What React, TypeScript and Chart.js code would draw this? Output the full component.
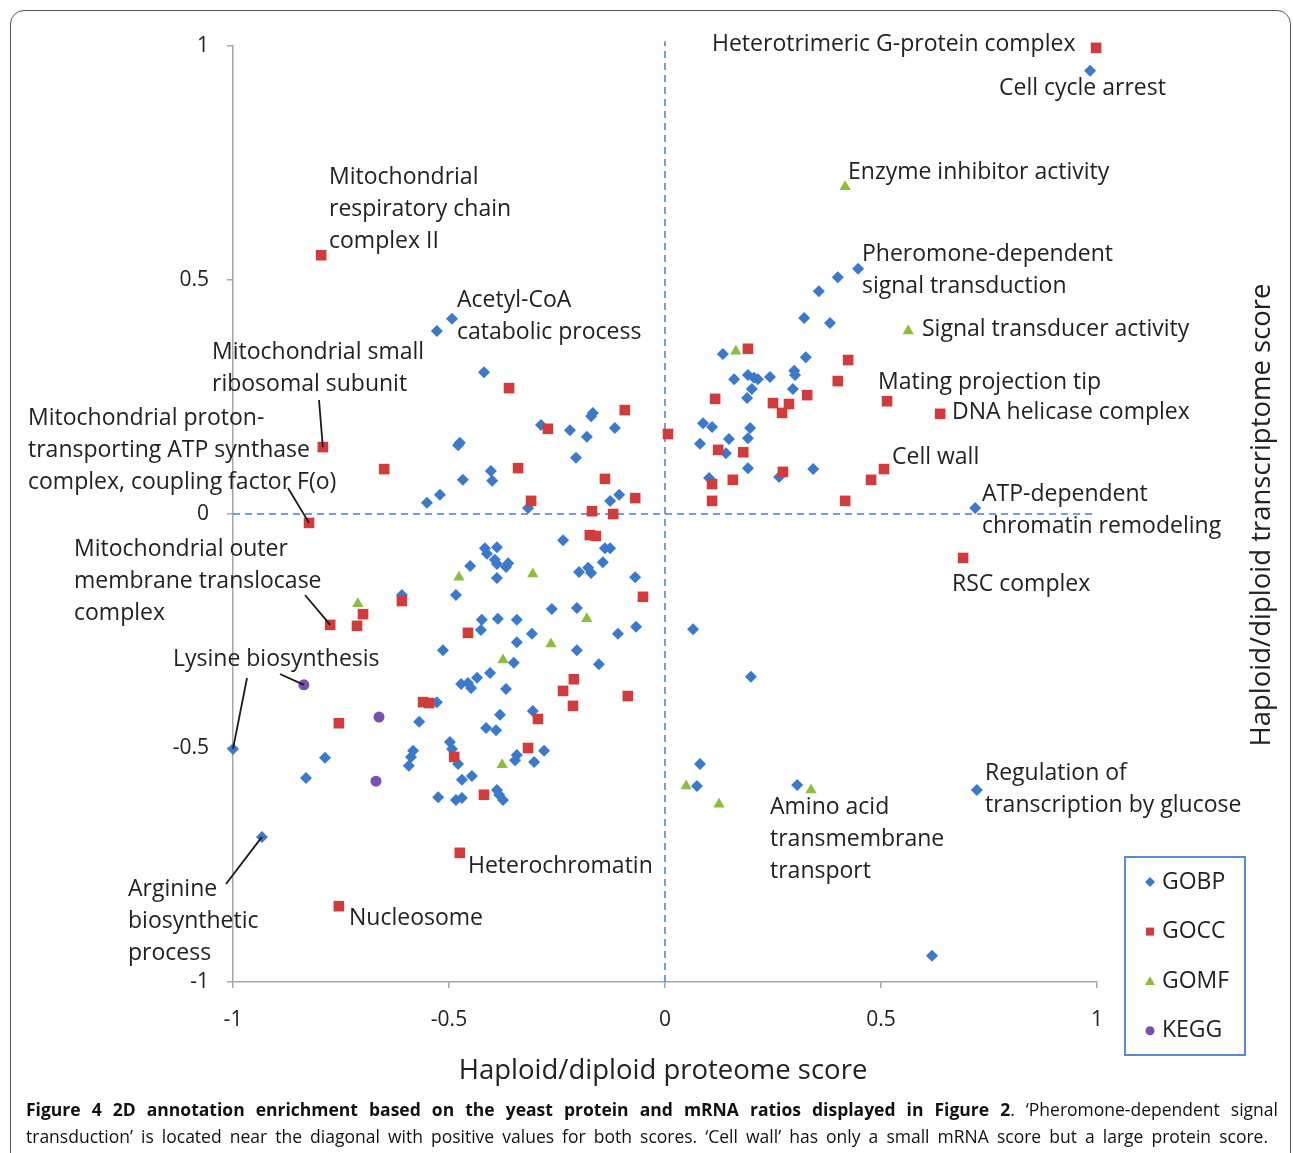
import React, { useEffect, useRef } from "react";
import { Chart, registerables } from "chart.js";

Chart.register(...registerables);

// ---------- data ----------
const xTickValues = [-1, -0.5, 0, 0.5, 1];
const xTickLabels = ["-1", "-0.5", "0", "0.5", "1"];
const yTickValues = [-1, -0.5, 0, 0.5, 1];
const yTickLabels = ["-1", "-0.5", "0", "0.5", "1"];

const gobp: [number, number][] = [
  [0.984, 0.947], [0.447, 0.524], [0.4, 0.506], [0.356, 0.476], [0.322, 0.419], [0.382, 0.408],
  [0.134, 0.342], [0.326, 0.335], [0.16, 0.288], [0.192, 0.297], [0.206, 0.291], [0.215, 0.288],
  [0.243, 0.293], [0.299, 0.306], [0.301, 0.297], [0.201, 0.267], [0.19, 0.248], [0.296, 0.267],
  [0.088, 0.194], [0.109, 0.186], [0.197, 0.184], [0.192, 0.162], [0.148, 0.16], [0.081, 0.15],
  [0.141, 0.13], [0.192, 0.098], [0.264, 0.079], [0.343, 0.096], [0.102, 0.077], [0.718, 0.013],
  [0.065, -0.246], [0.199, -0.348], [0.081, -0.534], [0.074, -0.581], [0.306, -0.579], [0.722, -0.59],
  [0.618, -0.944],
  [-0.493, 0.417], [-0.528, 0.391], [-0.419, 0.303], [-0.167, 0.216], [-0.171, 0.209], [-0.287, 0.19],
  [-0.22, 0.179], [-0.181, 0.165], [-0.116, 0.184], [-0.475, 0.152], [-0.479, 0.147], [-0.206, 0.12],
  [-0.403, 0.092], [-0.4, 0.071], [-0.468, 0.073], [-0.521, 0.041], [-0.551, 0.024], [-0.127, 0.028],
  [-0.106, 0.041], [-0.317, 0.013],
  [-0.236, -0.056], [-0.417, -0.073], [-0.389, -0.071], [-0.139, -0.073], [-0.127, -0.073], [-0.412, -0.085],
  [-0.394, -0.098], [-0.389, -0.107], [-0.363, -0.105], [-0.368, -0.113], [-0.451, -0.111], [-0.144, -0.103],
  [-0.199, -0.124], [-0.178, -0.115], [-0.171, -0.126], [-0.389, -0.137], [-0.069, -0.135], [-0.484, -0.173],
  [-0.609, -0.173], [-0.262, -0.203], [-0.204, -0.201], [-0.424, -0.226], [-0.426, -0.248], [-0.387, -0.224],
  [-0.343, -0.226], [-0.308, -0.256], [-0.343, -0.274], [-0.109, -0.256], [-0.067, -0.241], [-0.514, -0.291],
  [-0.204, -0.291], [-0.35, -0.318], [-0.153, -0.321], [-0.405, -0.34], [-0.435, -0.35], [-0.472, -0.363],
  [-0.456, -0.361], [-0.449, -0.372], [-0.368, -0.374], [-0.528, -0.402], [-0.569, -0.444], [-0.382, -0.429],
  [-0.306, -0.421], [-0.414, -0.457], [-0.391, -0.462], [-0.498, -0.487], [-0.493, -0.502], [-0.479, -0.534],
  [-0.583, -0.506], [-0.588, -0.519], [-0.593, -0.538], [-0.343, -0.515], [-0.347, -0.526], [-0.28, -0.506],
  [-0.303, -0.53], [-0.47, -0.568], [-0.447, -0.56], [-0.525, -0.605], [-0.484, -0.611], [-0.47, -0.607],
  [-0.389, -0.59], [-0.384, -0.6], [-0.375, -0.611], [-0.787, -0.521], [-0.831, -0.564], [-1.0, -0.502],
  [-0.933, -0.69],
];

const gocc: [number, number][] = [
  [0.998, 0.996], [0.192, 0.353], [0.424, 0.329], [0.4, 0.284], [0.329, 0.254], [0.514, 0.241],
  [0.637, 0.214], [0.116, 0.246], [0.25, 0.237], [0.271, 0.216], [0.287, 0.235], [0.007, 0.171],
  [0.123, 0.137], [0.181, 0.132], [0.273, 0.09], [0.157, 0.073], [0.507, 0.096], [0.477, 0.073],
  [0.109, 0.064], [0.109, 0.028], [0.417, 0.028], [0.69, -0.094],
  [-0.796, 0.553], [-0.792, 0.143], [-0.65, 0.096], [-0.824, -0.019], [-0.361, 0.269], [-0.093, 0.222],
  [-0.271, 0.182], [-0.34, 0.098], [-0.139, 0.075], [-0.069, 0.034], [-0.31, 0.028], [-0.169, 0.006],
  [-0.12, 0.0], [-0.174, -0.045], [-0.16, -0.047], [-0.051, -0.177], [-0.609, -0.186], [-0.699, -0.214],
  [-0.775, -0.237], [-0.713, -0.239], [-0.456, -0.254], [-0.211, -0.353], [-0.236, -0.378], [-0.213, -0.41],
  [-0.086, -0.389], [-0.56, -0.402], [-0.546, -0.404], [-0.294, -0.438], [-0.755, -0.447], [-0.317, -0.5],
  [-0.488, -0.519], [-0.419, -0.6], [-0.475, -0.724], [-0.755, -0.838],
];

const gomf: [number, number][] = [
  [0.417, 0.699], [0.563, 0.391], [0.164, 0.348], [0.049, -0.581], [0.125, -0.62], [0.338, -0.59],
  [-0.477, -0.135], [-0.306, -0.128], [-0.711, -0.192], [-0.181, -0.224], [-0.264, -0.278],
  [-0.375, -0.312], [-0.377, -0.536],
];

const kegg: [number, number][] = [
  [-0.836, -0.365], [-0.662, -0.434], [-0.669, -0.571],
];

const seriesNames = ["GOBP", "GOCC", "GOMF", "KEGG"];

// ---------- layout / style ----------
const W = 1293;
const H = 1153;
const AREA = { left: 233, right: 1097, top: 46, bottom: 982 };
const COLORS: Record<string, string> = { GOBP: "#3a79cc", GOCC: "#d13b3b", GOMF: "#8cbd3e", KEGG: "#7a4fb2" };
const FONT = '"Open Sans", "DejaVu Sans", sans-serif';
const LINE_H = 32;

type Label = { lines: string[]; x: number; y: number };
const labels: Label[] = [
  { lines: ["Heterotrimeric G-protein complex"], x: 712, y: 44 },
  { lines: ["Cell cycle arrest"], x: 999, y: 88 },
  { lines: ["Enzyme inhibitor activity"], x: 848, y: 172 },
  { lines: ["Pheromone-dependent", "signal transduction"], x: 862, y: 254 },
  { lines: ["Signal transducer activity"], x: 922, y: 329 },
  { lines: ["Mating projection tip"], x: 878, y: 382 },
  { lines: ["DNA helicase complex"], x: 952, y: 412 },
  { lines: ["Cell wall"], x: 892, y: 457 },
  { lines: ["ATP-dependent", "chromatin remodeling"], x: 982, y: 494 },
  { lines: ["RSC complex"], x: 952, y: 584 },
  { lines: ["Regulation of", "transcription by glucose"], x: 985, y: 773 },
  { lines: ["Amino acid", "transmembrane", "transport"], x: 770, y: 807 },
  { lines: ["Heterochromatin"], x: 468, y: 866 },
  { lines: ["Nucleosome"], x: 349, y: 918 },
  { lines: ["Arginine", "biosynthetic", "process"], x: 128, y: 889 },
  { lines: ["Lysine biosynthesis"], x: 173, y: 659 },
  { lines: ["Mitochondrial outer", "membrane translocase", "complex"], x: 74, y: 549 },
  { lines: ["Mitochondrial proton-", "transporting ATP synthase", "complex, coupling factor F(o)"], x: 28, y: 418 },
  { lines: ["Mitochondrial small", "ribosomal subunit"], x: 212, y: 352 },
  { lines: ["Acetyl-CoA", "catabolic process"], x: 457, y: 300 },
  { lines: ["Mitochondrial", "respiratory chain", "complex II"], x: 329, y: 177 },
];

// leader lines: from a pixel point near the text to a data point
const leaders: { fx: number; fy: number; to: [number, number] | undefined }[] = [
  { fx: 319, fy: 400, to: gocc[23] },
  { fx: 288, fy: 488, to: gocc[25] },
  { fx: 305, fy: 595, to: gocc[40] },
  { fx: 280, fy: 674, to: kegg[0] },
  { fx: 247, fy: 678, to: gobp[122] },
  { fx: 226, fy: 884, to: gobp[123] },
];

function drawMarker(ctx: CanvasRenderingContext2D, kind: string, x: number, y: number, r: number) {
  ctx.beginPath();
  if (kind === "GOBP") {
    ctx.moveTo(x, y - r); ctx.lineTo(x + r, y); ctx.lineTo(x, y + r); ctx.lineTo(x - r, y); ctx.closePath();
  } else if (kind === "GOCC") {
    ctx.rect(x - r * 0.8, y - r * 0.8, r * 1.6, r * 1.6);
  } else if (kind === "GOMF") {
    ctx.moveTo(x, y - r); ctx.lineTo(x + r, y + r * 0.75); ctx.lineTo(x - r, y + r * 0.75); ctx.closePath();
  } else {
    ctx.arc(x, y, r * 0.9, 0, Math.PI * 2);
  }
  ctx.fillStyle = COLORS[kind];
  ctx.fill();
}

const annotPlugin = {
  id: "annot",
  afterDraw(chart: any) {
    const { ctx } = chart;
    const xs = chart.scales.x;
    const ys = chart.scales.y;
    ctx.save();
    // leader lines
    ctx.strokeStyle = "#1a1a1a";
    ctx.lineWidth = 1.8;
    for (const l of leaders) {
      if (!l.to) continue;
      ctx.beginPath();
      ctx.moveTo(l.fx, l.fy);
      ctx.lineTo(xs.getPixelForValue(l.to[0]), ys.getPixelForValue(l.to[1]));
      ctx.stroke();
    }
    // labels
    ctx.fillStyle = "#222";
    ctx.font = `23px ${FONT}`;
    ctx.textBaseline = "middle";
    ctx.textAlign = "left";
    for (const a of labels) {
      a.lines.forEach((t, i) => ctx.fillText(t, a.x, a.y + i * LINE_H));
    }
    // axis titles
    ctx.font = `27.5px ${FONT}`;
    ctx.textAlign = "center";
    ctx.fillText("Haploid/diploid proteome score", 663, 1071);
    ctx.save();
    ctx.translate(1262, 515);
    ctx.rotate(-Math.PI / 2);
    ctx.fillText("Haploid/diploid transcriptome score", 0, 0);
    ctx.restore();
    // legend
    ctx.strokeStyle = "#5a8ad0";
    ctx.lineWidth = 2;
    ctx.strokeRect(1125, 857, 120, 198);
    ctx.font = `23px ${FONT}`;
    ctx.textAlign = "left";
    seriesNames.forEach((n, i) => {
      const yy = 882 + i * 49.6;
      drawMarker(ctx, n, 1150, yy, 5);
      ctx.fillStyle = "#222";
      ctx.fillText(n, 1162, yy);
    });
    ctx.restore();
  },
};

export default function App() {
  const ref = useRef<HTMLCanvasElement>(null);
  useEffect(() => {
    if (!ref.current) return;
    const toPts = (a: [number, number][]) => a.map(([x, y]) => ({ x, y }));
    const labelFor = (vals: number[], labs: string[]) => (v: number) => {
      const i = vals.findIndex((t) => Math.abs(t - v) < 1e-9);
      return i >= 0 ? labs[i] : "";
    };
    const chart = new Chart(ref.current, {
      type: "scatter",
      data: {
        datasets: [
          { label: "h0", type: "line", data: [{ x: -1, y: 0 }, { x: 1, y: 0 }], borderColor: "#4a7ecb", borderWidth: 1.5, borderDash: [7, 5], pointRadius: 0, order: 10 } as any,
          { label: "v0", type: "line", data: [{ x: 0, y: -1 }, { x: 0, y: 1.01 }], borderColor: "#4a7ecb", borderWidth: 1.5, borderDash: [7, 5], pointRadius: 0, order: 10, clip: false } as any,
          { label: "GOBP", data: toPts(gobp), backgroundColor: COLORS.GOBP, borderWidth: 0, pointStyle: "rectRot", pointRadius: 6, order: 4, clip: false } as any,
          { label: "GOCC", data: toPts(gocc), backgroundColor: COLORS.GOCC, borderWidth: 0, pointStyle: "rect", pointRadius: 7.5, order: 3, clip: false } as any,
          { label: "GOMF", data: toPts(gomf), backgroundColor: COLORS.GOMF, borderWidth: 0, pointStyle: "triangle", pointRadius: 6.5, order: 2, clip: false } as any,
          { label: "KEGG", data: toPts(kegg), backgroundColor: COLORS.KEGG, borderWidth: 0, pointStyle: "circle", pointRadius: 5.5, order: 1, clip: false } as any,
        ],
      },
      options: {
        responsive: false,
        animation: false,
        devicePixelRatio: 1,
        layout: { padding: { left: 0, top: AREA.top, right: W - AREA.right, bottom: 0 } },
        plugins: { legend: { display: false }, tooltip: { enabled: false } },
        scales: {
          x: {
            type: "linear",
            position: "bottom",
            min: -1,
            max: 1,
            ticks: { stepSize: 0.5, color: "#222", font: { family: FONT, size: 21 }, padding: 19, maxRotation: 0, callback: labelFor(xTickValues, xTickLabels) },
            afterFit: (s: any) => { s.height = H - AREA.bottom; },
            grid: { display: true, drawOnChartArea: false, drawTicks: true, tickLength: 6, color: "#a6a6a6", lineWidth: 1.5 },
            border: { display: true, color: "#a6a6a6", width: 1.5 },
          },
          y: {
            type: "linear",
            min: -1,
            max: 1,
            ticks: { stepSize: 0.5, color: "#222", font: { family: FONT, size: 21 }, padding: 18, callback: labelFor(yTickValues, yTickLabels) },
            afterFit: (s: any) => { s.width = AREA.left; },
            grid: { display: true, drawOnChartArea: false, drawTicks: true, tickLength: 6, color: "#a6a6a6", lineWidth: 1.5 },
            border: { display: true, color: "#a6a6a6", width: 1.5 },
          },
        },
      } as any,
      plugins: [annotPlugin],
    });
    return () => chart.destroy();
  }, []);

  const lineStyle: React.CSSProperties = {
    textAlign: "justify",
    textAlignLast: "justify" as any,
    whiteSpace: "normal",
    height: 27,
    overflow: "hidden",
  };

  return (
    <div style={{ position: "absolute", left: 0, top: 0, width: W, height: H, overflow: "hidden", background: "#fff" }}>
      <div style={{ position: "absolute", left: 10, top: 10, width: 1281, height: 1170, border: "1.5px solid #555", borderRadius: 14, boxSizing: "border-box" }} />
      <canvas ref={ref} width={W} height={H} style={{ position: "absolute", left: 0, top: 0, width: W, height: H }} />
      <div style={{ position: "absolute", left: 26, top: 1096, width: 1252, fontFamily: FONT, fontSize: 17.5, lineHeight: "27px", color: "#111" }}>
        <div style={lineStyle}>
          <b>Figure 4 2D annotation enrichment based on the yeast protein and mRNA ratios displayed in Figure 2</b>. ‘Pheromone-dependent signal
        </div>
        <div style={{ ...lineStyle, width: 1242 }}>
          transduction’ is located near the diagonal with positive values for both scores. ‘Cell wall’ has only a small mRNA score but a large protein score.
        </div>
      </div>
    </div>
  );
}
